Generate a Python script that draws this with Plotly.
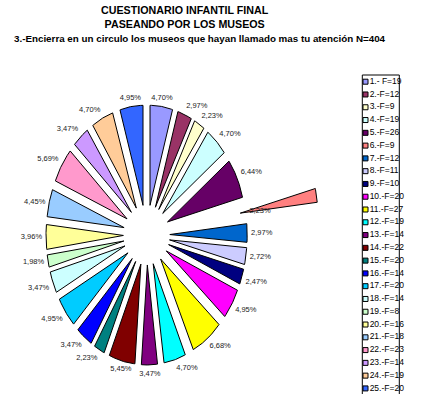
import math
import plotly.graph_objects as go

# Survey data: museums that caught the children's attention (N=404)
categories = ["1.- F=19", "2.-F=12", "3.-F=9", "4.-F=19", "5.-F=26", "6.-F=9",
              "7.-F=12", "8.-F=11", "9.-F=10", "10.-F=20", "11.-F=27", "12.-F=19",
              "13.-F=14", "14.-F=22", "15.-F=20", "16.-F=14", "17.-F=20", "18.-F=14",
              "19.-F=8", "20.-F=16", "21.-F=18", "22.-F=23", "23.-F=14", "24.-F=19",
              "25.-F=20"]
percentages = [4.70, 2.97, 2.23, 4.70, 6.44, 2.23, 2.97, 2.72, 2.47, 4.95,
               6.68, 4.70, 3.47, 5.45, 2.23, 3.47, 4.95, 3.47, 1.98, 3.96,
               4.45, 5.69, 3.47, 4.70, 4.95]
colors = ["#9999FF", "#993366", "#FFFFCC", "#CCFFFF", "#660066", "#FF8080",
          "#0066CC", "#CCCCFF", "#000080", "#FF00FF", "#FFFF00", "#00FFFF",
          "#800080", "#800000", "#008080", "#0000FF", "#00CCFF", "#CCFFFF",
          "#CCFFCC", "#FFFF99", "#99CCFF", "#FF99CC", "#CC99FF", "#FFCC99",
          "#3366FF"]
title_lines = ["CUESTIONARIO INFANTIL FINAL",
               "PASEANDO POR LOS MUSEOS",
               "3.-Encierra en un circulo los museos que hayan llamado mas tu atención N=404"]

# Layout / style constants
W, H = 422, 394
PX_X, PX_Y = 77.4, 100.0        # pixels per unit radius (horizontal, vertical)
CX, CY = 146.6, 235.0            # pie centre in pixels
EXPLODE = 0.30                   # common explosion (fraction of radius)
EXTRA_EXPLODE = {5: 1.23}        # slice index -> explosion
LABEL_DIST = 1.35
LEG_X, LEG_Y0, LEG_DY = 365.5, 81.7, 12.78
FONT = "Arial, Liberation Sans"

total = sum(percentages)
fig = go.Figure()

# Exploded wedges
start = 0.0
mids = []
for i, (v, c) in enumerate(zip(percentages, colors)):
    a0 = start
    a1 = start + 360.0 * v / total
    start = a1
    mid = math.radians((a0 + a1) / 2)
    mids.append(mid)
    p = EXTRA_EXPLODE.get(i, EXPLODE)
    ox, oy = p * math.sin(mid), p * math.cos(mid)
    n = max(4, int((a1 - a0) * 2))
    xs, ys = [ox], [oy]
    for k in range(n + 1):
        t = math.radians(a0 + (a1 - a0) * k / n)
        xs.append(ox + math.sin(t))
        ys.append(oy + math.cos(t))
    xs.append(ox)
    ys.append(oy)
    fig.add_trace(go.Scatter(x=xs, y=ys, mode="lines", fill="toself",
                             fillcolor=c, line=dict(color="black", width=1),
                             name=categories[i], showlegend=False,
                             hoverinfo="skip"))

# Percentage labels
lx, ly, lt, lp = [], [], [], []
for v, m in zip(percentages, mids):
    s, co = math.sin(m), math.cos(m)
    lx.append(LABEL_DIST * s)
    ly.append(LABEL_DIST * co)
    lt.append(f"{v:.2f}%".replace(".", ","))
    hpos = "right" if s > 0.25 else ("left" if s < -0.25 else "center")
    vpos = "top" if co > 0.25 else ("bottom" if co < -0.25 else "middle")
    lp.append(f"{vpos} {hpos}")
fig.add_trace(go.Scatter(x=lx, y=ly, mode="text", text=lt, textposition=lp,
                         textfont=dict(family=FONT, size=7.5, color="#222222"),
                         showlegend=False, hoverinfo="skip", cliponaxis=False))

# Legend column
fig.add_trace(go.Scatter(x=[0] * len(categories), y=list(range(len(categories))),
                         mode="markers+text", text=categories,
                         textposition="middle right",
                         marker=dict(symbol="square", size=5, color=colors,
                                     line=dict(color="black", width=1)),
                         textfont=dict(family=FONT, size=8.5, color="black"),
                         xaxis="x2", yaxis="y2", showlegend=False,
                         hoverinfo="skip", cliponaxis=False))

# Three-line bold title; first two lines padded so they sit slightly left
pad = "\u00a0" * 10
title_text = ("<b>" + title_lines[0] + pad + "<br>" + title_lines[1] + pad +
              "<br><span style='font-size:9.8px'>" + title_lines[2] +
              "</span></b>")

x_lo = -CX / PX_X
y_hi = CY / PX_Y
fig.update_layout(
    width=W, height=H,
    margin=dict(l=0, r=0, t=0, b=0),
    paper_bgcolor="white", plot_bgcolor="rgba(0,0,0,0)",
    xaxis=dict(range=[x_lo, x_lo + W / PX_X], visible=False, domain=[0, 1]),
    yaxis=dict(range=[y_hi - H / PX_Y, y_hi], visible=False, domain=[0, 1]),
    xaxis2=dict(range=[-LEG_X, W - LEG_X], visible=False, domain=[0, 1],
                anchor="y2"),
    yaxis2=dict(range=[(H - LEG_Y0) / LEG_DY, -LEG_Y0 / LEG_DY], visible=False,
                domain=[0, 1], anchor="x2"),
    shapes=[dict(type="rect", xref="paper", yref="paper",
                 x0=362.3 / W, x1=399.3 / W, y0=-0.05, y1=1 - 75 / H,
                 line=dict(color="black", width=1), fillcolor="rgba(0,0,0,0)",
                 layer="above")],
    annotations=[dict(text=title_text, x=200 / W, y=1 - 24 / H,
                      xref="paper", yref="paper", xanchor="center",
                      yanchor="middle", align="center", showarrow=False,
                      font=dict(family=FONT, size=10.7, color="black"))],
)

fig.write_html("out.html")
